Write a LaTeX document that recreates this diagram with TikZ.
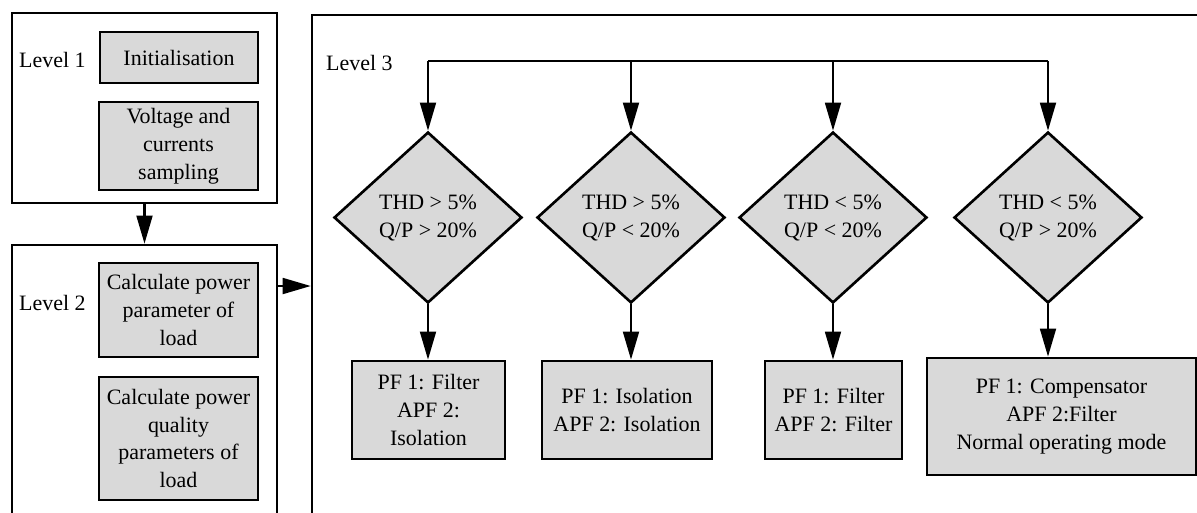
\documentclass[tikz,border=0pt]{standalone}
\usepackage{fontspec}
\setmainfont{Liberation Serif}
\usetikzlibrary{shapes.geometric,arrows.meta}

\tikzset{
	block/.style={draw, line width=1.5pt, fill=black!15, align=center, inner sep=0pt},
	frame/.style={draw, line width=1.5pt, inner sep=0pt},
	cond/.style={diamond, draw, line width=1.5pt, fill=black!15, align=center, inner sep=0pt, minimum width=3.76cm, minimum height=3.42cm},
	flow/.style={line width=1.4pt, -{Triangle[length=16pt,width=9pt]}}
}

\begin{document}
\begin{tikzpicture}[x=0.02cm, y=-0.02cm, every node/.style={font=\fontsize{12.5}{15.9}\selectfont}]
	\useasboundingbox (0,0) rectangle (1197,512);
	\clip (0,0) rectangle (1197,512);
	
	\node[frame, minimum width=5.3cm, minimum height=3.8cm] (lvl1) at (144.5,108) {};
	\node[frame, minimum width=5.3cm, minimum height=7.1cm] (lvl2) at (144.5,422.5) {};
	\node[frame, minimum width=18.96cm, minimum height=11.7cm] (lvl3) at (786,307.5) {};
	
	\node[anchor=west] (lab1) at (13,60) {Level 1};
	\node[anchor=west] (lab2) at (13,303) {Level 2};
	\node[anchor=west] (lab3) at (320,63) {Level 3};
	
	\node[block, minimum width=3.16cm, minimum height=1.02cm] (init) at (179,57.5) {Initialisation};
	\node[block, minimum width=3.18cm, minimum height=1.76cm] (sampl) at (178.5,146) {Voltage and\\currents\\sampling};
	\node[block, minimum width=3.18cm, minimum height=1.88cm] (param) at (178.5,310) {Calculate power\\parameter of\\load};
	\node[block, minimum width=3.18cm, minimum height=2.46cm] (qual) at (178.5,438.5) {Calculate power\\quality\\parameters of\\load};
	
	\draw[flow] (lvl1.south) -- (lvl2.north);
	\coordinate (tap) at (0,286);
	\draw[flow] (lvl2.east |- tap) -- (lvl3.west |- tap);
	
	\coordinate (bus) at (0,61);
	\foreach \n/\x/\t in {1/428/{THD > 5\%\\Q/P > 20\%}, 2/631/{THD > 5\%\\Q/P < 20\%}, 3/833/{THD < 5\%\\Q/P < 20\%}, 4/1048/{THD < 5\%\\Q/P > 20\%}}
	{
		\node[cond] (d\n) at (\x,217.5) {\t};
		\draw[flow] (d\n.north |- bus) -- (d\n.north);
	}
	\draw[line width=1.4pt] (d1.north |- bus) -- (d4.north |- bus);
	
	\node[block, minimum width=3.06cm, minimum height=1.96cm] (r1) at (428.5,410) {PF 1: Filter\\APF 2:\\Isolation};
	\node[block, minimum width=3.4cm, minimum height=1.96cm] (r2) at (627,410) {PF 1: Isolation\\APF 2: Isolation};
	\node[block, minimum width=2.74cm, minimum height=1.96cm] (r3) at (833.5,410) {PF 1: Filter\\APF 2: Filter};
	\node[block, minimum width=5.38cm, minimum height=2.34cm] (r4) at (1061.5,416.5) {PF 1: Compensator\\APF 2:Filter\\Normal operating mode};
	\foreach \n in {1,...,4}
	{
		\draw[flow] (d\n.south) -- (d\n.south |- r\n.north);
	}
\end{tikzpicture}
\end{document}
